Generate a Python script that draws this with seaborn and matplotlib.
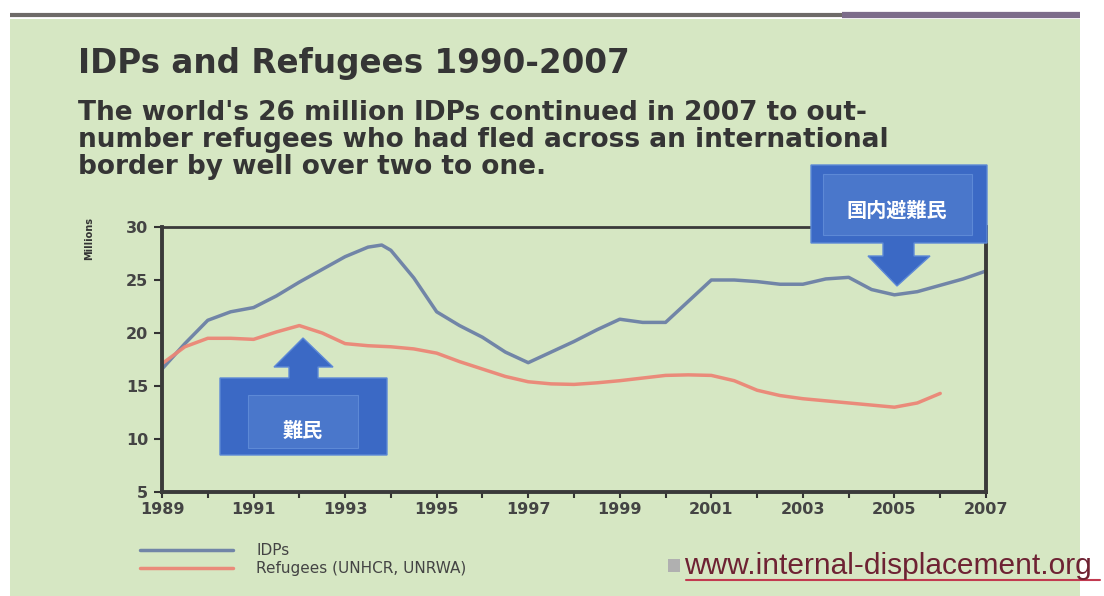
import pandas as pd
import matplotlib.pyplot as plt
import seaborn as sns
from matplotlib.patches import Rectangle, Polygon
from matplotlib.ticker import MultipleLocator

sns.set_theme(style='white')
plt.rcParams['font.family'] = ['DejaVu Sans', 'Noto Sans CJK JP']

# values (millions)
idp_years = [1989, 1989.5, 1990, 1990.5, 1991, 1991.5, 1992, 1992.5, 1993, 1993.5, 1993.8,
             1994, 1994.5, 1995, 1995.5, 1996, 1996.5, 1997, 1997.5, 1998, 1998.5, 1999,
             1999.5, 2000, 2000.5, 2001, 2001.5, 2002, 2002.5, 2003, 2003.5, 2004, 2004.5,
             2005, 2005.5, 2006, 2006.5, 2007]
idps = [16.6, 19.0, 21.2, 22.0, 22.4, 23.5, 24.8, 26.0, 27.2, 28.1, 28.3,
        27.8, 25.2, 22.0, 20.7, 19.6, 18.2, 17.2, 18.2, 19.2, 20.3, 21.3,
        21.0, 21.0, 23.0, 25.0, 25.0, 24.85, 24.6, 24.6, 25.1, 25.25, 24.1,
        23.6, 23.9, 24.5, 25.1, 25.85]

ref_years = [1989, 1989.5, 1990, 1990.5, 1991, 1991.5, 1992, 1992.5, 1993, 1993.5,
             1994, 1994.5, 1995, 1995.5, 1996, 1996.5, 1997, 1997.5, 1998, 1998.5,
             1999, 1999.5, 2000, 2000.5, 2001, 2001.5, 2002, 2002.5, 2003, 2003.5,
             2004, 2004.5, 2005, 2005.5, 2006]
refugees = [17.1, 18.7, 19.5, 19.5, 19.4, 20.1, 20.7, 20.0, 19.0, 18.8,
            18.7, 18.5, 18.1, 17.3, 16.6, 15.9, 15.4, 15.2, 15.15, 15.3,
            15.5, 15.75, 16.0, 16.05, 16.0, 15.5, 14.6, 14.1, 13.8, 13.6,
            13.4, 13.2, 13.0, 13.4, 14.3]

series_names = ['IDPs', 'Refugees (UNHCR, UNRWA)']
x_labels = [str(y) for y in range(1989, 2008, 2)]

df = pd.concat([
    pd.DataFrame({'Year': idp_years, 'Millions': idps, 'Series': series_names[0]}),
    pd.DataFrame({'Year': ref_years, 'Millions': refugees, 'Series': series_names[1]}),
])

W, H = 1104, 596
green = '#d6e7c3'
fig = plt.figure(figsize=(W / 100, H / 100), dpi=100, facecolor='white')

# slide background (pixel coordinates)
bg = fig.add_axes([0, 0, 1, 1], zorder=0)
bg.set_xlim(0, W)
bg.set_ylim(H, 0)
bg.axis('off')
bg.add_patch(Rectangle((10, 19), 1070, 580, color=green, lw=0))
bg.plot([10, 842], [15, 15], color='#6e6a68', lw=3, solid_capstyle='butt')
bg.plot([842, 1080], [15, 15], color='#7c6c8a', lw=4.5, solid_capstyle='butt')

bg.text(78, 64, 'IDPs and Refugees 1990-2007', fontsize=23.5, fontweight='bold',
        color='#353535', va='center', ha='left')
sub = ("The world's 26 million IDPs continued in 2007 to out-\n"
       "number refugees who had fled across an international\n"
       "border by well over two to one.")
bg.text(78, 140, sub, fontsize=19, fontweight='bold', color='#353535',
        va='center', ha='left', linespacing=1.03)

# main chart
L, R, T, B = 162, 986, 227, 492
ax = fig.add_axes([L / W, (H - B) / H, (R - L) / W, (B - T) / H], zorder=1)
ax.set_facecolor(green)
sns.lineplot(data=df, x='Year', y='Millions', hue='Series', ax=ax,
             palette=['#6c80a6', '#ec8676'], linewidth=2.5, alpha=0.95)
ax.set_xlim(1989, 2007)
ax.set_ylim(5, 30)
ax.set_xticks(range(1989, 2008, 2))
ax.set_xticklabels(x_labels)
ax.xaxis.set_minor_locator(MultipleLocator(1))
ax.set_yticks(range(5, 31, 5))
ax.tick_params(axis='both', which='major', length=6, width=1.5, color='#333333',
               labelsize=11.5, labelcolor='#444444', pad=4)
ax.tick_params(axis='x', which='minor', bottom=True, length=4, width=1.5, color='#333333')
ax.tick_params(axis='x', which='major', bottom=True, length=4, pad=3)
ax.tick_params(axis='y', left=True)
for lab in ax.get_xticklabels() + ax.get_yticklabels():
    lab.set_fontweight('bold')
for side, lw in [('left', 2.8), ('bottom', 2.8), ('right', 2.8), ('top', 2)]:
    ax.spines[side].set_color('#3a3a3a')
    ax.spines[side].set_linewidth(lw)
ax.set_xlabel('')
ax.set_ylabel('')

sns.move_legend(ax, loc='upper left', bbox_to_anchor=(140 / W, 1 - 543 / H),
                bbox_transform=fig.transFigure, frameon=False, title=None,
                fontsize=11, handlelength=6.1, handletextpad=1.5, labelspacing=0.2,
                borderpad=0, borderaxespad=0)
for t in ax.get_legend().get_texts():
    t.set_color('#444444')

# overlay: callouts, axis label, url
ov = fig.add_axes([0, 0, 1, 1], zorder=2)
ov.set_xlim(0, W)
ov.set_ylim(H, 0)
ov.axis('off')
ov.patch.set_alpha(0)

ov.text(89, 239, 'Millions', rotation=90, fontsize=7, fontweight='bold',
        color='#333333', ha='center', va='center')

box_c, inner_c, edge_c = '#3b69c5', '#4a77cb', '#5d89d6'
# 難民 callout (arrow up)
ov.add_patch(Polygon([(220, 378), (289, 378), (289, 367), (274, 367), (303, 338),
                      (333, 367), (318, 367), (318, 378), (387, 378), (387, 455),
                      (220, 455)], closed=True, facecolor=box_c, edgecolor=edge_c, lw=1))
ov.add_patch(Rectangle((248, 395), 110, 53, facecolor=inner_c, edgecolor=edge_c, lw=0.8))
ov.text(303, 430, '難民', family=['Noto Sans CJK JP'], fontsize=14.5, color='white',
        ha='center', va='center', fontweight='bold')

# 国内避難民 callout (arrow down)
ov.add_patch(Polygon([(811, 165), (987, 165), (987, 243), (914, 243), (914, 256),
                      (930, 256), (897, 286), (868, 256), (883, 256), (883, 243),
                      (811, 243)], closed=True, facecolor=box_c, edgecolor=edge_c, lw=1))
ov.add_patch(Rectangle((823, 174), 149, 61, facecolor=inner_c, edgecolor=edge_c, lw=0.8))
ov.text(897, 210, '国内避難民', family=['Noto Sans CJK JP'], fontsize=14.5, color='white',
        ha='center', va='center', fontweight='bold')

# source url
ov.add_patch(Rectangle((668, 559), 12, 13, color='#b0b0b0', lw=0))
ov.text(684, 566, 'www.internal-displacement.org', family=['Liberation Sans'],
        fontsize=21.5, color='#6e2233', ha='left', va='center')
ov.plot([686, 1100], [580, 580], color='#c23a50', lw=1.5)

fig.savefig('out.png', dpi=100, facecolor='white')
